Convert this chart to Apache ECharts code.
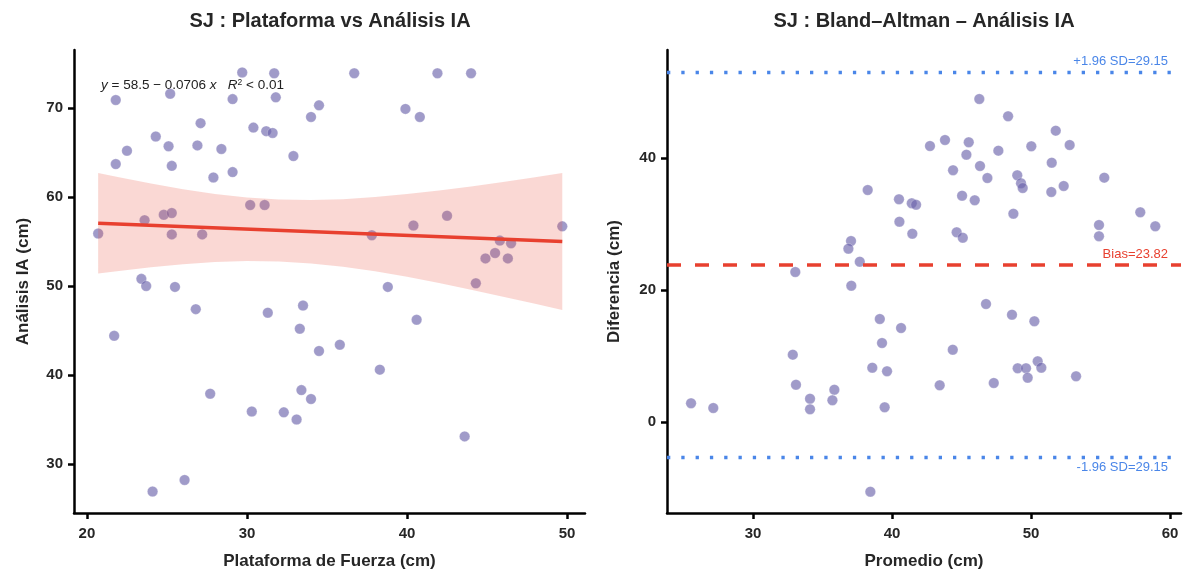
<!DOCTYPE html>
<html><head><meta charset="utf-8">
<script src="https://cdn.jsdelivr.net/npm/echarts@6/dist/echarts.min.js"></script>
<style>html,body{margin:0;padding:0;background:#fff}#c{width:1186px;height:576px}</style>
</head><body><div id="c"></div>
<script>
// ---- Left panel: Plataforma vs Análisis IA ----
const plataforma = [29.7,31.7,21.8,25.2,29.1,31.8,34.5,34.0,27.1,30.4,31.2,31.6,24.3,22.5,25.1,26.9,28.4,21.8,25.3,32.9,27.9,29.1,30.2,31.1,23.6,24.8,25.3,20.7,25.3,27.2,
  36.7,41.9,44.0,39.9,40.8,42.5,40.4,37.8,49.7,45.8,46.5,45.5,44.9,46.3,
  23.4,23.7,25.5,26.8,21.7,31.3,33.5,33.3,34.5,27.7,30.3,32.3,33.1,33.4,34.0,26.1,24.1,
  44.3,38.8,40.6,35.8,38.3,43.6];
const analisisIA = [74.0,73.9,70.9,71.6,71.0,71.2,70.3,69.0,68.3,67.8,67.4,67.2,66.8,65.2,65.7,65.8,65.4,63.7,63.5,64.6,62.2,62.8,59.1,59.1,57.4,58.0,58.2,55.9,55.8,55.8,
  73.9,73.9,73.9,69.9,69.0,57.9,56.8,55.7,56.7,55.1,54.8,53.7,53.1,53.1,
  50.8,50.0,49.9,47.4,44.4,47.0,47.8,45.2,42.7,37.9,35.9,35.8,35.0,38.3,37.3,28.2,26.9,
  50.3,49.9,46.2,43.4,40.6,33.1];
// regression line end points
const regX = [20.7, 49.7];
const regY = [57.04, 54.99];
// confidence band
const bandX    = [20.7, 22, 24, 26, 28, 30, 32, 34, 36, 38, 40, 42, 44, 46, 48, 49.7];
const bandLow  = [51.39,51.69,52.11,52.45,52.69,52.81,52.76,52.54,52.16,51.65,51.03,50.33,49.59,48.80,48.00,47.29];
const bandHigh = [62.69,62.21,61.51,60.87,60.35,59.95,59.72,59.66,59.76,59.99,60.33,60.73,61.19,61.70,62.22,62.69];
const leftXTicks = [20, 30, 40, 50];
const leftYTicks = [30, 40, 50, 60, 70];

// ---- Right panel: Bland–Altman ----
const promedio = [38.25,40.50,41.42,41.73,40.53,41.46,37.05,36.86,37.68,33.04,37.07,
  46.28,48.35,51.78,42.73,43.81,45.52,45.35,47.65,50.02,52.78,44.39,46.33,46.86,49.01,51.49,55.27,49.28,49.40,52.35,51.46,45.04,45.95,48.73,44.65,45.09,57.86,54.89,54.89,58.94,
  39.12,40.65,39.28,32.86,38.58,39.64,33.09,35.85,34.10,35.71,25.54,27.14,34.10,39.47,38.44,
  46.76,48.63,50.24,44.37,43.43,47.32,49.04,49.64,50.48,50.74,49.76,53.24];
const diferencia = [35.15,33.74,33.14,32.92,30.35,28.53,27.42,26.26,24.29,22.73,20.65,
  48.94,46.32,44.14,41.82,42.73,42.38,40.50,41.11,41.77,41.97,38.14,38.79,36.97,37.38,39.29,37.02,36.17,35.45,35.76,34.85,34.29,33.59,31.56,28.74,27.92,31.77,29.85,28.14,29.65,
  15.61,14.24,11.97,10.20,8.23,7.68,5.65,4.89,3.53,3.29,2.83,2.12,1.92,2.23,-10.56,
  17.88,16.26,15.26,10.95,5.56,5.91,8.14,8.14,9.20,8.23,6.71,6.92];
const bias = 23.82;
const loaUpper = 52.97;
const loaLower = -5.33;
const rightXTicks = [30, 40, 50, 60];
const rightYTicks = [0, 20, 40];

const FONT = '"Liberation Sans", Arial, Helvetica, sans-serif';
const TXT = '#262626';
const PT_COLOR = 'rgba(106,98,171,0.8)';
const RED = '#e8402f';
const BLUE = '#4a86e8';

function xAx(gi, min, max, name, ticks) {
  return {
    type: 'value', gridIndex: gi, min: min, max: max, name: name,
    nameLocation: 'middle', nameGap: 40,
    nameTextStyle: { fontFamily: FONT, fontWeight: 'bold', fontSize: 17, color: TXT },
    axisLine: { show: true, onZero: false, lineStyle: { color: '#000', width: 2.5 } },
    axisTick: { show: true, length: 6, lineStyle: { color: '#000', width: 2.5 }, customValues: ticks },
    axisLabel: { fontFamily: FONT, fontWeight: 'bold', fontSize: 15, color: TXT, margin: 13, customValues: ticks },
    splitLine: { show: false }
  };
}
function yAx(gi, min, max, name, ticks, gap) {
  return {
    type: 'value', gridIndex: gi, min: min, max: max, name: name,
    nameLocation: 'middle', nameGap: gap,
    nameTextStyle: { fontFamily: FONT, fontWeight: 'bold', fontSize: 17, color: TXT },
    axisLine: { show: true, onZero: false, lineStyle: { color: '#000', width: 2.5 } },
    axisTick: { show: true, length: 6, lineStyle: { color: '#000', width: 2.5 }, customValues: ticks },
    axisLabel: { fontFamily: FONT, fontWeight: 'bold', fontSize: 15, color: TXT, margin: 11, customValues: ticks },
    splitLine: { show: false }
  };
}

const chart = echarts.init(document.getElementById('c'));
const option = {
  animation: false,
  backgroundColor: '#fff',
  grid: [
    { left: 74, right: 1186 - 585, top: 50, bottom: 576 - 513 },
    { left: 667, right: 1186 - 1181, top: 50, bottom: 576 - 513 }
  ],
  xAxis: [
    xAx(0, 19.19, 51.12, 'Plataforma de Fuerza (cm)', leftXTicks),
    xAx(1, 23.81, 60.79, 'Promedio (cm)', rightXTicks)
  ],
  yAxis: [
    yAx(0, 24.49, 76.52, 'Análisis IA (cm)', leftYTicks, 42),
    yAx(1, -13.79, 56.36, 'Diferencia (cm)', rightYTicks, 44)
  ],
  graphic: [
    { type: 'text', x: 330, y: 21, z: 10,
      style: { text: 'SJ : Plataforma vs Análisis IA', font: 'bold 20px ' + FONT, fill: TXT,
        align: 'center', verticalAlign: 'middle', textAlign: 'center', textVerticalAlign: 'middle' } },
    { type: 'text', x: 924, y: 21, z: 10,
      style: { text: 'SJ : Bland–Altman – Análisis IA', font: 'bold 20px ' + FONT, fill: TXT,
        align: 'center', verticalAlign: 'middle', textAlign: 'center', textVerticalAlign: 'middle' } },
    { type: 'text', x: 101, y: 85, z: 10,
      style: { text: '{i|y} = 58.5 − 0.0706 {i|x}   {i|R}{s|2} < 0.01', font: '13.5px ' + FONT, fill: '#222',
        align: 'left', verticalAlign: 'middle', textAlign: 'left', textVerticalAlign: 'middle',
        rich: { i: { fontStyle: 'italic', fontSize: 13.5, fontFamily: FONT, color: '#222' },
                s: { fontSize: 8.5, fontFamily: FONT, color: '#222', verticalAlign: 'top' } } } }
  ],
  series: [
    { type: 'scatter', xAxisIndex: 0, yAxisIndex: 0, z: 2, symbolSize: 10.5,
      itemStyle: { color: PT_COLOR, borderColor: 'rgba(255,255,255,0.5)', borderWidth: 0.6 },
      data: plataforma.map((x, i) => [x, analisisIA[i]]) },
    { type: 'custom', xAxisIndex: 0, yAxisIndex: 0, z: 3, silent: true, clip: false,
      data: [[bandX[0], bandLow[0]]],
      renderItem: function (params, api) {
        const pts = [];
        for (let i = 0; i < bandX.length; i++) pts.push(api.coord([bandX[i], bandHigh[i]]));
        for (let i = bandX.length - 1; i >= 0; i--) pts.push(api.coord([bandX[i], bandLow[i]]));
        return { type: 'polygon', shape: { points: pts }, style: { fill: 'rgba(231,76,60,0.22)' } };
      } },
    { type: 'line', xAxisIndex: 0, yAxisIndex: 0, z: 4, symbol: 'none', silent: true,
      lineStyle: { color: RED, width: 3.5 },
      data: regX.map((x, i) => [x, regY[i]]) },
    { type: 'scatter', xAxisIndex: 1, yAxisIndex: 1, z: 2, symbolSize: 10.5,
      itemStyle: { color: PT_COLOR, borderColor: 'rgba(255,255,255,0.5)', borderWidth: 0.6 },
      data: promedio.map((x, i) => [x, diferencia[i]]),
      markLine: {
        symbol: 'none', silent: true, animation: false,
        data: [
          { yAxis: loaUpper, lineStyle: { color: BLUE, width: 3.3, type: [3.3, 11], cap: 'butt' },
            label: { show: true, position: 'insideEndTop', formatter: '+1.96 SD=29.15', color: BLUE, fontFamily: FONT, fontSize: 13, distance: [13, 4] } },
          { yAxis: bias, lineStyle: { color: RED, width: 3.5, type: [14, 14], cap: 'butt' },
            label: { show: true, position: 'insideEndTop', formatter: 'Bias=23.82', color: RED, fontFamily: FONT, fontSize: 13, distance: [13, 4] } },
          { yAxis: loaLower, lineStyle: { color: BLUE, width: 3.3, type: [3.3, 11], cap: 'butt' },
            label: { show: true, position: 'insideEndBottom', formatter: '-1.96 SD=29.15', color: BLUE, fontFamily: FONT, fontSize: 13, distance: [13, 4] } }
        ]
      } }
  ]
};
chart.setOption(option);
</script>
</body></html>
